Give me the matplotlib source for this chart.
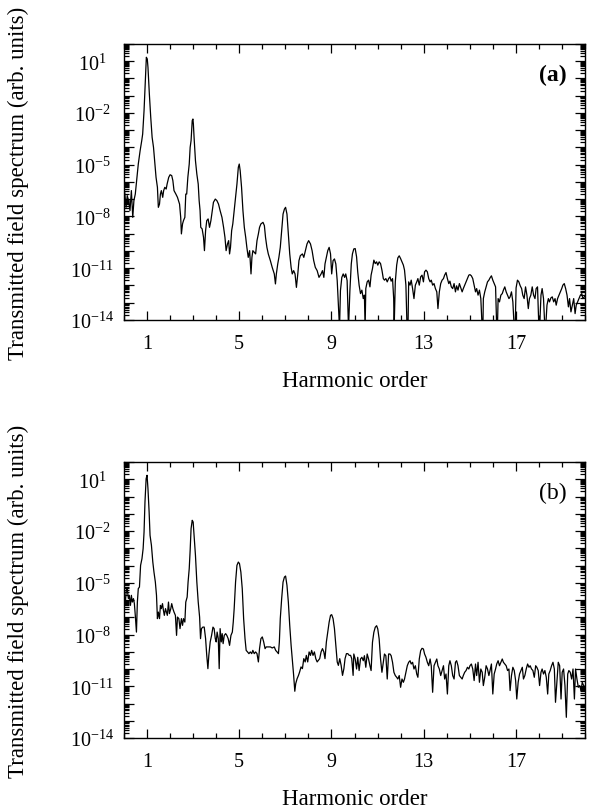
import numpy as np
import matplotlib
matplotlib.use("Agg")
import matplotlib.pyplot as plt
from matplotlib.ticker import FixedLocator, MultipleLocator, LogLocator, FuncFormatter, NullFormatter

plt.rcParams['font.family'] = ['Liberation Serif', 'DejaVu Serif']
plt.rcParams['mathtext.default'] = 'regular'

# panel (a): harmonic order and log10 of the spectrum
xa = [-0.03, 0.03, 0.09, 0.14, 0.20, 0.26, 0.32, 0.38, 0.43, 0.49, 0.55, 0.62, 0.70, 0.77, 0.81, 0.87, 0.93, 0.97,
      1.01, 1.04, 1.10, 1.16, 1.22, 1.28, 1.33, 1.39, 1.45, 1.49, 1.54, 1.58, 1.62, 1.68, 1.72, 1.77, 1.83, 1.87, 1.94,
      2.00, 2.07, 2.12, 2.17, 2.25, 2.32, 2.41, 2.46, 2.49, 2.54, 2.58, 2.64, 2.68, 2.72, 2.77, 2.83, 2.87, 2.91, 2.96,
      2.99, 3.01, 3.04, 3.10, 3.16, 3.22, 3.26, 3.30, 3.33, 3.39, 3.45, 3.49, 3.54, 3.59, 3.65, 3.71, 3.77, 3.83, 3.88,
      3.96, 4.03, 4.10, 4.17, 4.25, 4.32, 4.38, 4.43, 4.49, 4.54, 4.58, 4.62, 4.67, 4.72, 4.78, 4.84, 4.90, 4.96, 5.00,
      5.04, 5.10, 5.16, 5.22, 5.28, 5.33, 5.39, 5.45, 5.51, 5.55, 5.59, 5.65, 5.71, 5.77, 5.83, 5.88, 5.94, 6.03, 6.09,
      6.14, 6.20, 6.26, 6.35, 6.43, 6.52, 6.57, 6.61, 6.67, 6.72, 6.78, 6.84, 6.90, 6.96, 7.01, 7.07, 7.13, 7.19, 7.25,
      7.30, 7.36, 7.42, 7.48, 7.54, 7.59, 7.65, 7.74, 7.80, 7.87, 7.94, 8.01, 8.09, 8.16, 8.23, 8.30, 8.38, 8.46, 8.55,
      8.61, 8.67, 8.72, 8.78, 8.84, 8.90, 8.96, 9.01, 9.07, 9.13, 9.19, 9.25, 9.30, 9.35, 9.39, 9.45, 9.51, 9.57, 9.62,
      9.68, 9.74, 9.80, 9.86, 9.91, 9.97, 10.03, 10.09, 10.14, 10.20, 10.26, 10.32, 10.38, 10.43, 10.46, 10.49, 10.55,
      10.61, 10.67, 10.72, 10.78, 10.84, 10.90, 10.96, 11.01, 11.07, 11.13, 11.19, 11.25, 11.30, 11.36, 11.42, 11.48,
      11.54, 11.59, 11.65, 11.70, 11.72, 11.77, 11.83, 11.88, 11.94, 12.00, 12.06, 12.12, 12.17, 12.23, 12.28, 12.32,
      12.35, 12.41, 12.46, 12.52, 12.58, 12.64, 12.70, 12.75, 12.81, 12.87, 12.93, 12.99, 13.04, 13.10, 13.16, 13.22,
      13.28, 13.33, 13.39, 13.45, 13.51, 13.57, 13.62, 13.68, 13.74, 13.80, 13.86, 13.91, 13.97, 14.03, 14.09, 14.14,
      14.20, 14.26, 14.32, 14.38, 14.43, 14.49, 14.55, 14.61, 14.67, 14.72, 14.78, 14.84, 14.90, 14.96, 15.01, 15.07,
      15.13, 15.19, 15.25, 15.30, 15.36, 15.42, 15.48, 15.54, 15.57, 15.59, 15.65, 15.71, 15.77, 15.83, 15.88, 15.94,
      16.00, 16.06, 16.12, 16.17, 16.20, 16.23, 16.29, 16.35, 16.41, 16.46, 16.52, 16.58, 16.64, 16.70, 16.75, 16.81,
      16.87, 16.93, 16.97, 17.01, 17.07, 17.13, 17.19, 17.25, 17.30, 17.36, 17.42, 17.48, 17.54, 17.59, 17.65, 17.71,
      17.77, 17.83, 17.88, 17.94, 18.00, 18.03, 18.09, 18.14, 18.20, 18.26, 18.29, 18.35, 18.41, 18.46, 18.52, 18.58,
      18.64, 18.70, 18.75, 18.81, 18.87, 18.93, 18.99, 19.04, 19.10, 19.16, 19.22, 19.28, 19.33, 19.39, 19.45, 19.51,
      19.57, 19.62, 19.68, 19.74, 19.80, 19.86, 19.91, 19.97, 20.03]
la = [-6.89, -6.60, -7.47, -6.79, -7.08, -7.66, -6.50, -8.05, -7.08, -6.70, -5.92, -4.96, -4.18, -3.60, -3.22, -1.86, 0.07, 1.23,
      1.13, 0.65, -0.90, -2.25, -3.41, -3.99, -4.76, -5.73, -6.31, -7.47, -7.28, -6.70, -6.50, -6.89, -6.50, -6.31, -6.41, -6.12, -5.73,
      -5.58, -5.63, -5.92, -6.50, -6.70, -6.89, -7.28, -8.05, -9.01, -8.43, -8.24, -8.05, -6.70, -6.70, -5.73, -4.96, -3.99, -3.60, -2.44,
      -2.35, -2.64, -3.41, -4.76, -5.54, -6.12, -7.08, -7.66, -8.63, -8.72, -9.21, -9.98, -8.82, -8.24, -8.14, -8.63, -8.24, -7.66, -7.18,
      -6.99, -7.08, -7.28, -7.66, -8.05, -8.63, -9.21, -9.98, -9.59, -9.40, -10.17, -9.79, -8.82, -8.43, -7.66, -6.89, -6.12, -5.15, -4.96,
      -5.34, -6.31, -7.66, -8.63, -9.21, -9.79, -10.37, -9.98, -11.33, -10.37, -9.98, -10.08, -10.17, -9.40, -9.01, -8.63, -8.43, -8.34, -8.53,
      -9.21, -9.79, -10.17, -10.56, -10.95, -11.33, -11.91, -11.33, -10.75, -10.37, -9.79, -8.82, -7.86, -7.57, -7.47, -7.86, -9.01, -10.17, -10.95,
      -11.33, -11.14, -11.33, -12.11, -11.33, -10.56, -10.27, -10.17, -10.37, -9.98, -9.59, -9.40, -9.59, -9.98, -10.56, -10.95, -11.14, -11.53, -11.33,
      -11.14, -11.53, -10.75, -10.37, -9.98, -9.79, -10.17, -11.33, -10.56, -10.46, -10.75, -11.72, -13.07, -14.5, -12.30, -11.53, -11.33, -11.53, -11.33,
      -11.72, -14.5, -12.30, -10.75, -10.17, -9.88, -9.86, -10.34, -11.21, -11.98, -12.47, -12.27, -12.76, -12.56, -14.5, -12.18, -11.79,
      -11.69, -12.08, -11.40, -11.02, -10.53, -10.73, -10.63, -10.82, -10.63, -10.73, -11.11, -11.60, -11.69, -11.60, -11.79, -11.60,
      -11.50, -11.75, -11.60, -12.76, -14.5, -11.79, -10.82, -10.40, -10.28, -10.44, -10.63, -10.82, -11.11, -11.98, -14.5, -14.5,
      -11.79, -11.98, -11.69, -12.18, -12.76, -11.98, -11.79, -11.60, -11.98, -11.50, -11.40, -11.79, -11.21, -11.11, -11.21, -11.60,
      -11.79, -11.69, -11.98, -11.89, -12.18, -12.37, -13.34, -12.37, -11.89, -11.69, -11.60, -11.40, -11.25, -11.60, -11.89, -11.75,
      -12.08, -12.18, -11.89, -12.37, -12.02, -12.27, -11.89, -12.14, -12.37, -12.18, -11.98, -11.79, -11.60, -11.40, -11.37, -11.44,
      -11.60, -11.98, -12.37, -12.18, -12.56, -12.27, -12.76, -14.5, -14.5, -12.76, -12.37, -12.08, -11.79, -11.69, -11.56, -11.44,
      -11.69, -11.89, -12.08, -14.5, -14.5, -12.76, -12.95, -12.56, -12.47, -12.27, -12.08, -12.37, -12.56, -12.76, -12.66, -12.37,
      -12.95, -14.5, -14.5, -12.14, -11.69, -11.79, -12.02, -12.18, -12.56, -12.76, -12.08, -12.56, -13.34, -12.76, -12.56, -12.08,
      -12.56, -12.76, -12.18, -12.08, -14.5, -14.5, -12.56, -12.18, -12.76, -14.5, -14.5, -13.14, -12.76, -12.95, -12.72, -12.66,
      -12.95, -12.76, -13.14, -12.76, -12.56, -12.37, -12.18, -11.98, -11.89, -12.18, -12.56, -13.24, -12.76, -13.53, -13.14, -12.76,
      -13.63, -13.14, -12.95, -12.76, -12.56, -12.47, -12.76, -12.66, -12.56]

# panel (b)
xb = [-0.03, 0.01, 0.06, 0.10, 0.14, 0.19, 0.23, 0.28, 0.32, 0.36, 0.41, 0.45, 0.49, 0.54, 0.58, 0.62, 0.67, 0.72, 0.78, 0.83,
      0.87, 0.91, 0.96, 1.00, 1.04, 1.09, 1.13, 1.19, 1.25, 1.30, 1.36, 1.41, 1.45, 1.49, 1.54, 1.58, 1.62, 1.67, 1.71, 1.75,
      1.80, 1.84, 1.88, 1.93, 1.97, 2.03, 2.07, 2.12, 2.17, 2.23, 2.28, 2.32, 2.38, 2.43, 2.49, 2.54, 2.58, 2.64, 2.68, 2.74,
      2.78, 2.83, 2.87, 2.91, 2.96, 3.00, 3.04, 3.10, 3.16, 3.22, 3.28, 3.32, 3.36, 3.42, 3.48, 3.54, 3.59, 3.64, 3.68, 3.74,
      3.80, 3.86, 3.91, 3.96, 4.00, 4.04, 4.09, 4.13, 4.17, 4.22, 4.26, 4.30, 4.35, 4.41, 4.46, 4.52, 4.58, 4.64, 4.70, 4.74,
      4.78, 4.84, 4.90, 4.96, 5.01, 5.07, 5.13, 5.19, 5.25, 5.30, 5.36, 5.42, 5.48, 5.54, 5.59, 5.65, 5.71, 5.77, 5.83, 5.88,
      5.94, 6.00, 6.06, 6.12, 6.17, 6.26, 6.35, 6.43, 6.52, 6.58, 6.64, 6.70, 6.74, 6.78, 6.84, 6.90, 6.96, 7.01, 7.07, 7.13,
      7.19, 7.25, 7.30, 7.36, 7.41, 7.45, 7.51, 7.57, 7.62, 7.68, 7.74, 7.80, 7.86, 7.91, 7.97, 8.03, 8.09, 8.14, 8.20, 8.26,
      8.32, 8.38, 8.43, 8.49, 8.55, 8.61, 8.67, 8.72, 8.78, 8.84, 8.90, 8.96, 9.01, 9.07, 9.13, 9.19, 9.25, 9.30, 9.36, 9.42,
      9.48, 9.54, 9.59, 9.65, 9.71, 9.77, 9.83, 9.88, 9.94, 9.97, 10.03, 10.09, 10.14, 10.20, 10.26, 10.32, 10.38, 10.43, 10.49,
      10.55, 10.61, 10.67, 10.72, 10.78, 10.84, 10.90, 10.96, 11.01, 11.07, 11.13, 11.19, 11.25, 11.30, 11.36, 11.42, 11.48,
      11.54, 11.59, 11.65, 11.71, 11.77, 11.83, 11.88, 11.94, 12.00, 12.06, 12.12, 12.17, 12.23, 12.29, 12.35, 12.41, 12.46,
      12.52, 12.58, 12.64, 12.70, 12.75, 12.81, 12.87, 12.93, 12.99, 13.04, 13.10, 13.16, 13.22, 13.28, 13.33, 13.39, 13.45,
      13.51, 13.57, 13.62, 13.68, 13.74, 13.80, 13.86, 13.91, 13.97, 14.03, 14.09, 14.14, 14.20, 14.26, 14.32, 14.38, 14.43,
      14.49, 14.55, 14.61, 14.67, 14.72, 14.78, 14.84, 14.90, 14.96, 15.01, 15.07, 15.13, 15.19, 15.25, 15.30, 15.36, 15.42,
      15.48, 15.54, 15.59, 15.65, 15.71, 15.77, 15.83, 15.88, 15.94, 16.00, 16.06, 16.12, 16.17, 16.23, 16.29, 16.35, 16.41,
      16.46, 16.52, 16.58, 16.64, 16.70, 16.75, 16.81, 16.87, 16.93, 16.99, 17.04, 17.10, 17.16, 17.22, 17.28, 17.33, 17.39,
      17.45, 17.51, 17.57, 17.62, 17.68, 17.74, 17.80, 17.86, 17.91, 17.97, 18.03, 18.09, 18.14, 18.20, 18.26, 18.32, 18.38,
      18.43, 18.49, 18.55, 18.61, 18.67, 18.72, 18.78, 18.84, 18.90, 18.96, 19.01, 19.07, 19.13, 19.19, 19.25, 19.30, 19.36,
      19.42, 19.48, 19.54, 19.59, 19.65, 19.71, 19.77, 19.83, 19.88, 19.94, 20.03]
lb = [-6.12, -5.73, -6.12, -5.44, -5.34, -5.92, -5.73, -6.31, -5.73, -6.12, -5.92, -6.21, -6.89, -7.86, -6.12, -5.34, -5.25, -3.99, -3.60, -3.02,
      -2.06, -0.32, 1.03, 1.23, 0.45, -0.90, -2.25, -2.83, -3.80, -4.38, -4.96, -5.73, -7.08, -6.70, -7.08, -6.31, -6.50, -6.21, -6.60, -6.89,
      -6.50, -6.70, -6.89, -6.12, -6.79, -6.50, -6.21, -6.50, -6.70, -6.89, -8.05, -6.99, -7.08, -7.66, -7.08, -7.47, -7.08, -7.28, -6.12, -5.83,
      -4.96, -4.18, -3.12, -1.86, -1.38, -1.48, -2.25, -3.41, -4.96, -6.12, -6.99, -8.24, -7.66, -7.57, -7.57, -8.24, -9.21, -9.98, -9.21, -8.43,
      -8.05, -7.57, -7.66, -8.24, -8.43, -7.86, -8.24, -9.98, -7.66, -8.43, -7.95, -8.53, -8.05, -7.95, -8.05, -8.24, -8.63, -8.05, -7.86, -7.28,
      -6.50, -4.96, -3.99, -3.80, -3.89, -4.38, -5.34, -7.08, -8.24, -8.92, -9.01, -9.11, -9.01, -9.11, -8.92, -9.11, -9.01, -9.11, -9.59, -8.82,
      -8.24, -8.14, -8.43, -8.82, -8.72, -8.72, -8.72, -8.78, -8.72, -8.92, -9.01, -9.11, -8.43, -7.08, -5.92, -4.96, -4.67, -4.61, -5.15, -6.12,
      -7.47, -8.63, -9.40, -10.37, -11.29, -10.85, -10.56, -10.37, -10.17, -9.88, -9.98, -9.40, -9.59, -9.21, -9.59, -9.01, -9.21, -8.92, -9.21, -9.01,
      -9.40, -9.59, -9.50, -9.40, -9.01, -8.82, -9.01, -9.40, -8.43, -7.86, -7.28, -6.89, -6.85, -7.08, -7.66, -8.63, -9.59, -9.79, -9.40, -9.79,
      -10.37, -9.98, -9.40, -9.11, -9.11, -9.21, -9.21, -9.40, -10.37, -9.13, -9.42, -10.00, -9.32, -10.09, -9.42, -9.32, -9.52, -9.23, -9.90,
      -9.13, -9.42, -9.81, -10.09, -8.45, -7.87, -7.58, -7.49, -7.68, -8.26, -9.42, -10.19, -9.61, -9.13, -9.23, -10.58, -9.13,
      -9.13, -9.23, -9.61, -10.19, -10.38, -10.48, -10.58, -10.38, -11.06, -10.58, -10.77, -10.58, -10.19, -9.81, -9.61, -9.52, -9.71,
      -9.61, -10.00, -9.81, -10.29, -10.48, -9.42, -8.94, -8.80, -8.84, -9.13, -9.32, -9.61, -9.81, -9.42, -9.81, -11.35, -9.81,
      -9.61, -9.42, -9.81, -10.00, -10.38, -10.09, -9.81, -10.58, -10.29, -11.45, -9.81, -9.52, -9.81, -10.38, -10.58, -9.61, -9.52,
      -9.81, -10.38, -10.48, -10.58, -10.38, -10.19, -10.09, -9.90, -10.00, -9.81, -9.71, -10.00, -10.67, -9.71, -10.38, -9.61, -10.77,
      -10.00, -10.19, -10.96, -10.48, -9.81, -10.00, -10.38, -10.09, -9.71, -11.45, -10.29, -10.00, -9.71, -9.52, -9.81, -9.61, -9.42,
      -9.61, -9.71, -9.81, -10.09, -10.00, -11.25, -10.38, -9.90, -10.09, -10.67, -11.74, -10.77, -10.29, -10.09, -9.90, -10.58, -10.38,
      -10.00, -9.71, -9.90, -9.81, -10.00, -10.09, -10.48, -9.81, -9.90, -10.09, -10.96, -10.19, -10.00, -10.29, -10.09, -10.48, -11.45,
      -10.29, -10.09, -9.81, -9.61, -10.00, -11.93, -10.77, -9.61, -9.81, -11.74, -10.19, -10.00, -10.96, -12.80, -10.29, -10.09, -10.19,
      -10.58, -10.00, -11.74, -10.00, -10.58, -11.06, -10.96, -11.25, -10.77, -10.96, -11.06]

x_major = [1, 5, 9, 13, 17]
y_labelled = [1, -2, -5, -8, -11, -14]
panel_tags = ['(a)', '(b)']


def ylab(v, pos):
    e = int(round(np.log10(v)))
    if e in y_labelled:
        return r'$10^{%d}$' % e
    return ''


fig = plt.figure(figsize=(5.95, 8.12), dpi=100)
ax1 = fig.add_axes([0.2084, 0.6047, 0.7748, 0.3399])
ax2 = fig.add_axes([0.2084, 0.0899, 0.7748, 0.3399])

for ax, xs, ls, tag in [(ax1, xa, la, panel_tags[0]), (ax2, xb, lb, panel_tags[1])]:
    ax.plot(xs, 10.0 ** np.array(ls), color='black', lw=0.9)
    ax.set_yscale('log')
    ax.set_xlim(0, 20)
    ax.set_ylim(1e-14, 1e2)

    ax.xaxis.set_major_locator(FixedLocator(x_major))
    ax.xaxis.set_minor_locator(MultipleLocator(1))
    ax.yaxis.set_major_locator(LogLocator(base=10, numticks=30))
    ax.yaxis.set_minor_locator(LogLocator(base=10, subs=np.arange(2, 10), numticks=30))
    ax.yaxis.set_major_formatter(FuncFormatter(ylab))
    ax.yaxis.set_minor_formatter(NullFormatter())

    ax.tick_params(which='both', direction='in', top=True, right=True, width=0.9)
    ax.tick_params(axis='x', which='major', length=6.5, labelsize=14.5, pad=10)
    ax.tick_params(axis='x', which='minor', length=3.4)
    ax.tick_params(axis='y', which='major', length=7, labelsize=14.5, pad=23)
    ax.tick_params(axis='y', which='minor', length=3.5)
    for t in ax.get_yticklabels():
        t.set_horizontalalignment('center')
    for s in ax.spines.values():
        s.set_linewidth(1.0)

    ax.set_xlabel('Harmonic order', fontsize=16.5)
    ax.xaxis.set_label_coords(0.5, -0.18)
    ax.set_ylabel('Transmitted field spectrum (arb. units)', fontsize=16.5)
    ax.yaxis.set_label_coords(-0.205, 0.5)

    ax.text(0.961, 0.888, tag, transform=ax.transAxes, ha='right', va='center', fontsize=17,
            fontweight='bold' if tag == '(a)' else 'normal')

fig.savefig('out.png', dpi=100)
plt.close('all')
